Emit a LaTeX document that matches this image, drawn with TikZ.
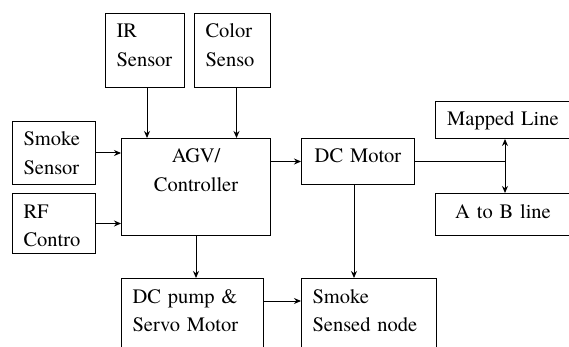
\documentclass[tikz,border=0pt]{standalone}
\usepackage{fontspec}
\setmainfont{texgyretermes}[Extension=.otf, UprightFont=*-regular]
\usetikzlibrary{arrows.meta, positioning}

\begin{document}
\begin{tikzpicture}[
  x=1pt, y=-1pt,
  blk/.style 2 args={draw, line width=1pt, anchor=north west,
    inner xsep=11pt, inner ysep=0pt, text width=#1pt-22pt,
    text height=24.5pt, text depth=#2pt-24.5pt, align=left,
    font=\fontsize{20.5}{28.5}\selectfont},
  arr/.style={-{Stealth[length=7pt, width=6pt]}, line width=1pt},
  arrb/.style={{Stealth[length=7pt, width=6pt]}-{Stealth[length=7pt, width=6pt]}, line width=1pt}
]
\useasboundingbox (0,0) rectangle (569,347);
\clip (0,0) rectangle (569,347);
% Sensors
\node[blk={79}{74}] (ir) at (105,13) {IR\\Sensor};
\node[blk={76}{74}] (col) at (194,13) {Color\\Senso};
\node[blk={83}{63}] (smk) at (12,121) {Smoke\\Sensor};
\node[blk={83}{60}] (rf) at (12,193) {RF\\Contro};
% Controller
\node[blk={149}{97}, align=center] (agv) at (121,138) {AGV/\\Controller};
% Outputs
\node[blk={113}{46}, align=center] (dcm) at (301,138) {DC Motor};
\node[blk={142}{90}] (pump) at (121,278) {DC pump \&\\Servo Motor};
\node[blk={135}{90}] (sens) at (301,278) {Smoke\\Sensed node};
\node[blk={135}{37}, align=center] (map) at (435,101) {Mapped Line};
\node[blk={135}{42}, align=center] (atob) at (435,193) {A to B line};
% Arrows
\draw[arr] ([xshift=2]ir.south) -- ([xshift=2]ir.south |- agv.north);
\draw[arr] ([xshift=4]col.south) -- ([xshift=4]col.south |- agv.north);
\draw[arr] (smk.east) -- (smk.east -| agv.west);
\draw[arr] (rf.east) -- (rf.east -| agv.west);
\draw[arr] (agv.south) -- (agv.south |- pump.north);
\draw[arr] (agv.east |- dcm.west) -- (dcm.west);
\draw[arr] ([xshift=-4]dcm.south) -- ([xshift=-4]dcm.south |- sens.north);
\draw[arr] ([yshift=-23]pump.north east) -- ([yshift=-23]pump.north east -| sens.west);
\coordinate (jn) at ([xshift=2]map.south);
\draw[arrb] (jn) -- (jn |- atob.north);
\draw[line width=1pt] (dcm.east) -- (dcm.east -| jn);
\end{tikzpicture}
\end{document}
